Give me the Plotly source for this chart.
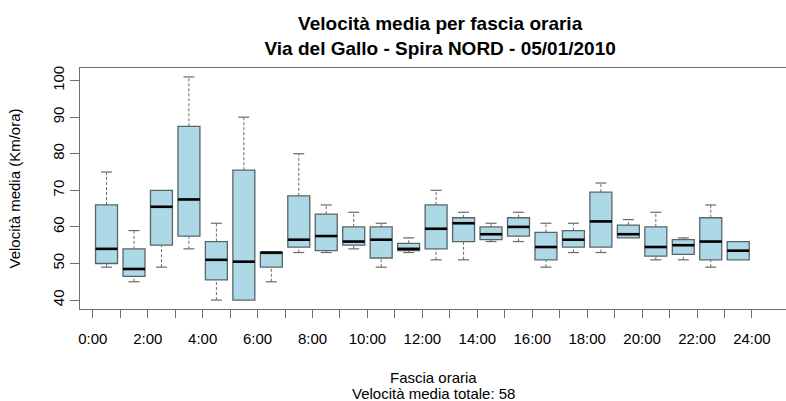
import plotly.graph_objects as go

# ---- data ----
hours = list(range(24))  # fascia oraria index (0..23)
lower = [49, 45, 49, 54, 40, 40, 45, 53, 53, 54, 49, 53, 51, 51, 56, 56, 49, 53, 53, 57, 51, 51, 49, 51]
q1 = [50, 46.5, 55, 57.5, 45.5, 40, 49, 54.5, 53.5, 55, 51.5, 53.5, 54, 56, 56.5, 57.5, 51, 54.5, 54.5, 57, 52, 52.5, 51, 51]
median = [54, 48.5, 65.5, 67.5, 51, 50.5, 53, 56.5, 57.5, 56, 56.5, 54, 59.5, 61, 58, 60, 54.5, 56.5, 61.5, 58, 54.5, 55, 56, 53.5]
q3 = [66, 54, 70, 87.5, 56, 75.5, 53, 68.5, 63.5, 60, 60, 55.5, 66, 62.5, 60, 62.5, 58.5, 59, 69.5, 60.5, 60, 56.5, 62.5, 56]
upper = [75, 59, 70, 101, 61, 90, 53, 80, 66, 64, 61, 57, 70, 64, 61, 64, 61, 61, 72, 62, 64, 57, 66, 56]
tick_hours = list(range(25))
tick_labels = [f"{h}:00" if h % 2 == 0 else "" for h in tick_hours]
media_totale = 58

FONT = "Liberation Sans, Arial, sans-serif"
BOX_W = 0.8
CAP_HALF = 0.2
AXIS_COL = "#707070"
BOX_LINE = "#5a6468"
WHISK_COL = "#6a6a6a"

pos = [h + 0.5 for h in hours]

fig = go.Figure()

# dashed whiskers
wx, wy = [], []
for p, lo, a, b, up in zip(pos, lower, q1, q3, upper):
    if up > b:
        wx += [p, p, None]
        wy += [b, up, None]
    if lo < a:
        wx += [p, p, None]
        wy += [lo, a, None]
fig.add_trace(go.Scatter(x=wx, y=wy, mode="lines",
                         line=dict(color=WHISK_COL, width=1, dash="3px,2px"),
                         hoverinfo="skip", showlegend=False))

# staples (caps)
cx, cy = [], []
for p, lo, a, b, up in zip(pos, lower, q1, q3, upper):
    if up > b:
        cx += [p - CAP_HALF, p + CAP_HALF, None]
        cy += [up, up, None]
    if lo < a:
        cx += [p - CAP_HALF, p + CAP_HALF, None]
        cy += [lo, lo, None]
fig.add_trace(go.Scatter(x=cx, y=cy, mode="lines",
                         line=dict(color=WHISK_COL, width=1.2),
                         hoverinfo="skip", showlegend=False))

# boxes
fig.add_trace(go.Box(
    x=pos, q1=q1, median=median, q3=q3,
    lowerfence=q1, upperfence=q3,
    width=BOX_W, whiskerwidth=0,
    fillcolor="#ADD8E6", line=dict(color=BOX_LINE, width=1.3),
    boxpoints=False, showlegend=False, hoverinfo="skip"))

# medians
mx, my = [], []
for p, m in zip(pos, median):
    mx += [p - BOX_W / 2, p + BOX_W / 2, None]
    my += [m, m, None]
fig.add_trace(go.Scatter(x=mx, y=my, mode="lines",
                         line=dict(color="black", width=2.6),
                         hoverinfo="skip", showlegend=False))

fig.update_layout(
    width=786, height=401,
    margin=dict(l=80, r=0, t=68, b=92),
    paper_bgcolor="white", plot_bgcolor="white",
    font=dict(family=FONT, size=15, color="black"),
    showlegend=False,
    title=dict(
        text="<b>Velocità media per fascia oraria<br>Via del Gallo - Spira NORD - 05/01/2010</b>",
        x=0.56, xanchor="center", y=1 - 30 / 401, yanchor="middle",
        font=dict(family=FONT, size=19, color="black")),
    xaxis=dict(
        range=[-0.466, 25.24], tickmode="array",
        tickvals=tick_hours, ticktext=tick_labels,
        showgrid=False, zeroline=False,
        showline=True, linecolor=AXIS_COL, linewidth=1.3, mirror=True,
        ticks="outside", ticklen=8, tickcolor=AXIS_COL, tickwidth=1.3,
        tickfont=dict(size=15), ticklabelstandoff=8),
    yaxis=dict(
        range=[37.56, 103.44], tickvals=[40, 50, 60, 70, 80, 90, 100],
        showgrid=False, zeroline=False,
        showline=True, linecolor=AXIS_COL, linewidth=1.3, mirror=False,
        ticks="outside", ticklen=9, tickcolor=AXIS_COL, tickwidth=1.3,
        tickangle=-90, tickfont=dict(size=15), ticklabelstandoff=0,
        title=dict(text="Velocità media (Km/ora)", font=dict(size=15), standoff=25)),
    annotations=[
        dict(text="Fascia oraria", xref="paper", yref="paper",
             x=0.5, y=(309 - 377) / 241, xanchor="center", yanchor="middle",
             showarrow=False, font=dict(size=15)),
        dict(text=f"Velocità media totale: {media_totale}", xref="paper", yref="paper",
             x=0.5, y=(309 - 393) / 241, xanchor="center", yanchor="middle",
             showarrow=False, font=dict(size=15)),
    ],
)

fig.write_html("out.html",
               config={"displayModeBar": False},
               post_script="document.body.style.margin='0';document.body.style.padding='0';")
